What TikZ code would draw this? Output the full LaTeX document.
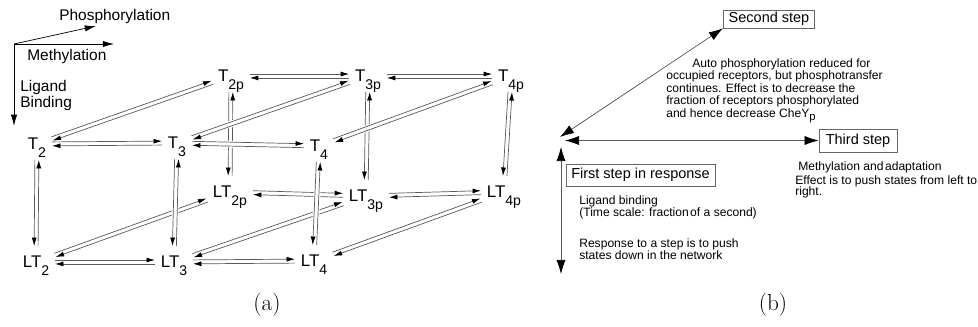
\documentclass[tikz,border=0pt]{standalone}
\usepackage{fontspec}
\newfontfamily\hv{Liberation Sans}
\usetikzlibrary{arrows.meta,calc}
\newcommand\lo[1]{\raisebox{-5.5pt}{\fontsize{10}{10}\selectfont #1}}
\tikzset{
  st/.style={font=\hv\fontsize{12}{12}\selectfont,text depth=0pt,inner xsep=4pt,inner ysep=7pt},
  ar/.style={black!65,line width=0.5pt,-{Latex[color=black,length=6pt,width=3.5pt]}},
  halo/.style={white,line width=4.8pt,shorten <=3pt,shorten >=3pt},
  ax/.style={line width=0.5pt,-{Latex[length=8pt,width=4.5pt]}},
  lab/.style={font=\hv\fontsize{11}{11.4}\selectfont,inner sep=0pt},
  stepbox/.style={draw=black!60,line width=0.5pt,font=\hv\fontsize{10.3}{12}\selectfont,inner sep=0pt},
  note/.style={font=\hv\fontsize{8.6}{8.9}\selectfont,inner sep=0pt,align=left,anchor=north west},
  big/.style={black!65,line width=0.5pt,{Latex[color=black,length=10pt,width=6.5pt]}-{Latex[color=black,length=10pt,width=6.5pt]}},
}
\begin{document}
\begin{tikzpicture}[x=0.025cm,y=-0.025cm]
\useasboundingbox (0,0) rectangle (978,327);
% axes of the network
\coordinate (O) at (14,44); \coordinate (P) at (96,26); \coordinate (M) at (114,44); \coordinate (L) at (14,126);
\draw[ax] (O)--(P); \draw[ax] (O)--(M); \draw[ax] (O)--(L);
\node[lab,anchor=base west] (phos) at (59,21) {Phosphorylation};
\node[lab,anchor=base west] (meth) at (27,61) {Methylation};
\node[lab,anchor=north west,align=left] (bind) at (20,80) {Ligand\\Binding};
% receptor states
\foreach \n/\t/\x/\y in {T2/T\lo{2}/37/144, T3/T\lo{3}/177/143, T4/T\lo{4}/319/146,
  T2p/T\lo{2p}/231/76, T3p/T\lo{3p}/368/76, T4p/T\lo{4p}/511/76,
  LT2/LT\lo{2}/36/262, LT3/LT\lo{3}/174/262, LT4/LT\lo{4}/314/261,
  LT2p/LT\lo{2p}/230/192, LT3p/LT\lo{3p}/366/196, LT4p/LT\lo{4p}/504/192}
  {\node[st] (\n) at (\x,\y) {\t};}
% reversible steps, back face first
\foreach \a/\b/\r in {T2p/T3p/90, T3p/T4p/90, LT2p/LT3p/90, LT3p/LT4p/90,
  T2p/LT2p/-90, T3p/LT3p/-90, T4p/LT4p/-90,
  T2/T2p/90, T3/T3p/90, T4/T4p/90, LT2/LT2p/90, LT3/LT3p/90, LT4/LT4p/90,
  T2/T3/90, T3/T4/90, LT2/LT3/90, LT3/LT4/90, T2/LT2/-90, T3/LT3/-90, T4/LT4/-90}{
  \pgfmathsetmacro\q{-\r}
  \path (\a)--(\b) coordinate[pos=0] (s) coordinate[pos=1] (e);
  \draw[halo] (s)--(e);
  \draw[ar] ($(s)!1.4pt!\r:(e)$)--($(e)!1.4pt!\q:(s)$);
  \draw[ar] ($(e)!1.4pt!\r:(s)$)--($(s)!1.4pt!\q:(e)$);
}
\node[font=\fontsize{16.5}{16.5}\selectfont] (capa) at (267,305) {(a)};
% panel b
\node[stepbox,minimum width=65pt,minimum height=12.8pt] (sec) at (769,19) {Second step};
\node[stepbox,minimum width=55.5pt,minimum height=16.4pt] (thi) at (858,140.5) {Third step};
\node[stepbox,minimum width=106pt,minimum height=15.6pt] (fir) at (640.5,175) {First step in response};
\coordinate (o1) at (560,137); \coordinate (o2) at (565,140.5); \coordinate (o3) at (561,147); \coordinate (dn) at (561,274);
\draw[big] (o1)--(sec.south west);
\draw[big] (o2)--(thi.west);
\draw[big] (o3)--(dn);
\node[note] (auto) at (666,58) {\hspace*{18.5pt}Auto phosphorylation reduced for\\occupied receptors, but phosphotransfer\\continues. Effect is to decrease the\\fraction of receptors phosphorylated\\and hence decrease CheY\raisebox{-2.5pt}{\fontsize{8}{8}\selectfont p}};
\node[note] (adap) at (798,161.5) {Methylation and\hspace{1pt}adaptation};
\node[note,font=\hv\fontsize{8.6}{8.2}\selectfont] (eff) at (795,175) {Effect is to push states from left to\\right.};
\node[note,font=\hv\fontsize{8.6}{9.2}\selectfont] (ligb) at (579,195) {Ligand binding\\(Time scale: fraction\hspace{1pt}of a second)};
\node[note] (resp) at (579,238) {Response to a step is to push\\states down in the network};
\node[font=\fontsize{16.5}{16.5}\selectfont] (capb) at (773,305) {(b)};
\end{tikzpicture}
\end{document}
